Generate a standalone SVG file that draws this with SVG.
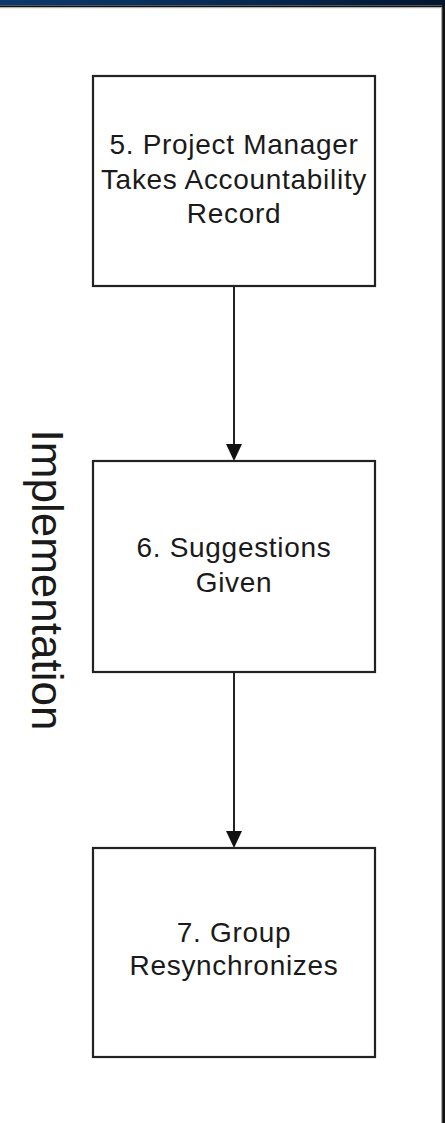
<svg xmlns="http://www.w3.org/2000/svg" width="445" height="1123" viewBox="0 0 445 1123">
  <defs>
    <linearGradient id="bar" x1="0" y1="0" x2="1" y2="0">
      <stop offset="0" stop-color="#0b3a6e"/>
      <stop offset="0.6" stop-color="#06274f"/>
      <stop offset="1" stop-color="#021530"/>
    </linearGradient>
    <style>
      .box { fill: #ffffff; stroke: #222222; stroke-width: 2.2; }
      .lbl { font-family: "Liberation Sans", Arial, sans-serif; font-size: 28px; fill: #1a1a1a; text-anchor: middle; letter-spacing: 0.7px; }
      .conn { stroke: #222222; stroke-width: 2; fill: none; }
      .head { fill: #111111; stroke: none; }
      .lane { font-family: "Liberation Sans", Arial, sans-serif; font-size: 44px; fill: #1a1a1a; text-anchor: middle; }
    </style>
  </defs>

  <rect x="0" y="0" width="445" height="1123" fill="#ffffff"/>

  <!-- frame -->
  <g id="frame">
    <rect x="0" y="0" width="445" height="5" fill="url(#bar)"/>
    <rect x="0" y="5" width="445" height="1" fill="#555555"/>
    <rect x="0" y="6" width="445" height="1.2" fill="#111111"/>
    <rect x="0" y="7.2" width="445" height="1" fill="#aaaaaa"/>
    <rect x="441" y="7" width="1.2" height="1116" fill="#aaaaaa"/>
    <rect x="442.2" y="5" width="2.8" height="1118" fill="#111111"/>
  </g>

  <g id="lane-label">
    <text class="lane" transform="translate(32,580) rotate(90)">Implementation</text>
  </g>

  <g id="connectors">
    <line class="conn" x1="234" y1="286" x2="234" y2="446"/>
    <polygon class="head" points="226,444 242,444 234,461"/>
    <line class="conn" x1="234" y1="672" x2="234" y2="833"/>
    <polygon class="head" points="226,831 242,831 234,848"/>
  </g>

  <g id="node5">
    <rect class="box" x="93" y="76" width="282" height="210"/>
    <text class="lbl" x="234" y="154">5. Project Manager</text>
    <text class="lbl" x="234" y="189">Takes Accountability</text>
    <text class="lbl" x="234" y="223">Record</text>
  </g>

  <g id="node6">
    <rect class="box" x="93" y="461" width="282" height="211"/>
    <text class="lbl" x="234" y="557">6. Suggestions</text>
    <text class="lbl" x="234" y="592">Given</text>
  </g>

  <g id="node7">
    <rect class="box" x="93" y="848" width="282" height="209"/>
    <text class="lbl" x="234" y="942">7. Group</text>
    <text class="lbl" x="234" y="975">Resynchronizes</text>
  </g>
</svg>
